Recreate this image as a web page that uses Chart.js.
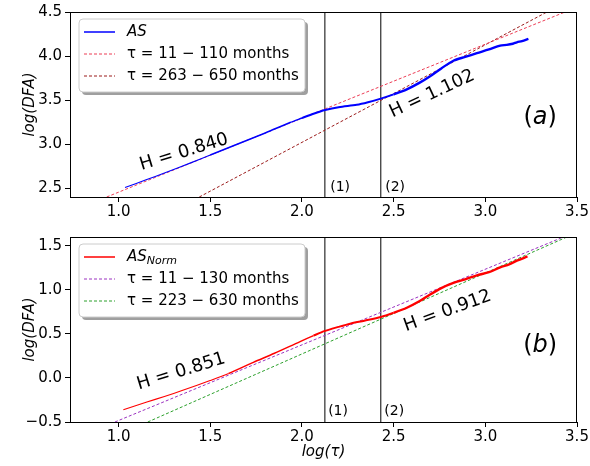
<!DOCTYPE html>
<html>
<head>
<meta charset="utf-8">
<script src="https://cdn.jsdelivr.net/npm/chart.js@4.4.0/dist/chart.umd.min.js"></script>
<style>
  body { margin: 0; background: #fff; }
  canvas { display: block; }
</style>
</head>
<body>
<canvas id="chartA" width="590" height="225"></canvas>
<canvas id="chartB" width="590" height="241"></canvas>
<script>
const FONT = '"DejaVu Sans", sans-serif';

// shared x axis: log(tau)
const xTicks = [1.0, 1.5, 2.0, 2.5, 3.0, 3.5];
const crossovers = [2.125, 2.43];   // (1) and (2)

// panel (a): AS
const asTau = [1.035, 1.15, 1.25, 1.4, 1.5, 1.65, 1.8, 1.935, 2.0, 2.063, 2.126, 2.2, 2.299, 2.36, 2.43, 2.5, 2.572,
  2.64, 2.699, 2.76, 2.826, 2.89, 2.954, 3.02, 3.081, 3.117, 3.15, 3.172, 3.2, 3.235];
const asDfa = [2.508, 2.595, 2.672, 2.793, 2.876, 3.002, 3.127, 3.245, 3.296, 3.345, 3.387, 3.42, 3.446, 3.475, 3.517,
  3.565, 3.622, 3.695, 3.771, 3.86, 3.947, 3.99, 4.033, 4.075, 4.119, 4.127, 4.14, 4.156, 4.17, 4.194];
const asShortTau = [0.935, 3.435];
const asShortDfa = [2.4, 4.5];
const asLongTau = [1.44, 3.336];
const asLongDfa = [2.4, 4.5];
const aTicks = [2.5, 3.0, 3.5, 4.0, 4.5];

// panel (b): AS_Norm
const normTau = [1.026, 1.15, 1.25, 1.35, 1.499, 1.6, 1.735, 1.85, 1.99, 2.063, 2.126, 2.2, 2.263, 2.34, 2.43, 2.5,
  2.572, 2.64, 2.699, 2.76, 2.826, 2.89, 2.954, 3.02, 3.081, 3.13, 3.172, 3.23];
const normDfa = [-0.36, -0.276, -0.21, -0.14, -0.03, 0.05, 0.177, 0.28, 0.413, 0.48, 0.534, 0.58, 0.616, 0.65, 0.692,
  0.74, 0.797, 0.87, 0.948, 1.02, 1.078, 1.12, 1.165, 1.2, 1.255, 1.29, 1.331, 1.379];
const normShortTau = [0.98, 3.426];
const normShortDfa = [-0.5, 1.6];
const normLongTau = [1.159, 3.445];
const normLongDfa = [-0.5, 1.6];
const bTicks = [-0.5, 0.0, 0.5, 1.0, 1.5];

const pts = (xs, ys) => xs.map((x, i) => ({ x: x, y: ys[i] }));

function runFont(r, size) {
  const s = r.sub ? Math.round(size * 0.7) : size;
  return (r.italic ? 'italic ' : '') + s + 'px ' + FONT;
}

function drawRuns(ctx, runs, x, y, size, align) {
  let w = 0;
  runs.forEach(r => { ctx.font = runFont(r, size); w += ctx.measureText(r.t).width; });
  let cx = align === 'center' ? x - w / 2 : x;
  ctx.textAlign = 'left';
  ctx.textBaseline = 'middle';
  runs.forEach(r => {
    ctx.font = runFont(r, size);
    ctx.fillText(r.t, cx, y + (r.sub ? size * 0.3 : 0));
    cx += ctx.measureText(r.t).width;
  });
}

function roundRect(ctx, x, y, w, h, r) {
  ctx.beginPath();
  ctx.moveTo(x + r, y);
  ctx.arcTo(x + w, y, x + w, y + h, r);
  ctx.arcTo(x + w, y + h, x, y + h, r);
  ctx.arcTo(x, y + h, x, y, r);
  ctx.arcTo(x, y, x + w, y, r);
  ctx.closePath();
}

const panelDecor = {
  id: 'panelDecor',
  afterDatasetsDraw(chart, args, opts) {
    const ctx = chart.ctx;
    const xs = chart.scales.x, ys = chart.scales.y;
    ctx.save();
    ctx.fillStyle = '#000';
    opts.notes.forEach(n => {
      ctx.save();
      ctx.translate(xs.getPixelForValue(n.x), ys.getPixelForValue(n.y));
      ctx.rotate((n.angle || 0) * Math.PI / 180);
      drawRuns(ctx, n.runs, 0, 0, n.size, 'center');
      ctx.restore();
    });
    ctx.restore();
  },
  afterDraw(chart, args, opts) {
    const ctx = chart.ctx;
    const ca = chart.chartArea;
    ctx.save();
    // frame
    ctx.strokeStyle = '#000';
    ctx.lineWidth = 1;
    ctx.strokeRect(Math.round(ca.left) + 0.5, Math.round(ca.top) + 0.5,
      Math.round(ca.right - ca.left) - 1, Math.round(ca.bottom - ca.top));
    // legend box
    const bx = ca.left + 9, by = ca.top + 7, bw = 226, bh = 73;
    ctx.fillStyle = 'rgba(80,80,80,0.55)';
    roundRect(ctx, bx + 3, by + 3, bw, bh, 4);
    ctx.fill();
    ctx.fillStyle = 'rgba(255,255,255,1)';
    roundRect(ctx, bx, by, bw, bh, 4);
    ctx.fill();
    ctx.strokeStyle = '#cccccc';
    ctx.stroke();
    opts.legend.forEach((item, i) => {
      const ly = by + 13 + i * 22;
      ctx.strokeStyle = item.color;
      ctx.lineWidth = item.width;
      ctx.setLineDash(item.dash || []);
      ctx.beginPath();
      ctx.moveTo(bx + 5, ly);
      ctx.lineTo(bx + 36, ly);
      ctx.stroke();
      ctx.setLineDash([]);
      ctx.fillStyle = '#000';
      drawRuns(ctx, item.runs, bx + 48, ly, 15, 'left');
    });
    ctx.restore();
  }
};

function widthByTau(ctx) {
  const x = ctx.p0.parsed.x;
  if (x < 1.5) return 1.1;
  if (x < 2.0) return 1.5;
  if (x < 2.5) return 2.0;
  return 2.4;
}

function buildPanel(id, p) {
  const dashed = (xs, ys, color) => ({
    data: pts(xs, ys), showLine: true, borderColor: color, borderWidth: 1,
    borderDash: [3, 2], pointRadius: 0
  });
  const vline = x => ({
    data: [{ x: x, y: p.yMin }, { x: x, y: p.yMax }], showLine: true,
    borderColor: '#000', borderWidth: 1, pointRadius: 0
  });
  return new Chart(document.getElementById(id), {
    type: 'scatter',
    data: {
      datasets: [
        {
          data: pts(p.curveX, p.curveY), showLine: true, borderColor: p.curveColor,
          borderWidth: 1.6, pointRadius: 0, tension: 0.3,
          segment: { borderWidth: widthByTau }
        },
        dashed(p.shortX, p.shortY, p.shortColor),
        dashed(p.longX, p.longY, p.longColor),
        vline(crossovers[0]),
        vline(crossovers[1])
      ]
    },
    options: {
      responsive: false,
      animation: false,
      layout: { padding: { left: 0, right: 13, top: p.padTop, bottom: 0 } },
      plugins: {
        legend: { display: false },
        tooltip: { enabled: false },
        panelDecor: { legend: p.legend, notes: p.notes }
      },
      scales: {
        x: {
          type: 'linear', min: 0.735, max: 3.5,
          afterFit: s => { s.height = p.xAxisHeight; },
          afterBuildTicks: s => { s.ticks = xTicks.map(v => ({ value: v })); },
          grid: { display: true, drawOnChartArea: false, drawTicks: true, tickLength: 5, color: '#000' },
          border: { display: true, color: '#000' },
          ticks: {
            color: '#000', padding: 1, maxRotation: 0,
            font: { family: FONT, size: 15 },
            callback: v => v.toFixed(1)
          },
          title: {
            display: p.xTitle, text: 'log(τ)', color: '#000',
            font: { family: FONT, size: 15, style: 'italic' },
            padding: { top: 0, bottom: 5 }
          }
        },
        y: {
          type: 'linear', min: p.yMin, max: p.yMax,
          afterFit: s => { s.width = 70; },
          afterBuildTicks: s => { s.ticks = p.yTicks.map(v => ({ value: v })); },
          grid: { display: true, drawOnChartArea: false, drawTicks: true, tickLength: 5, color: '#000' },
          border: { display: true, color: '#000' },
          ticks: {
            color: '#000', padding: 3,
            font: { family: FONT, size: 15 },
            callback: v => (v < 0 ? '\u2212' : '') + Math.abs(v).toFixed(1)
          },
          title: {
            display: true, text: 'log(DFA)', color: '#000',
            font: { family: FONT, size: 15, style: 'italic' },
            padding: { top: 21, bottom: 0 }
          }
        }
      }
    },
    plugins: [panelDecor]
  });
}

buildPanel('chartA', {
  curveX: asTau, curveY: asDfa, curveColor: '#0000ff',
  shortX: asShortTau, shortY: asShortDfa, shortColor: '#ec3d55',
  longX: asLongTau, longY: asLongDfa, longColor: '#9b1b1b',
  yMin: 2.4, yMax: 4.5, yTicks: aTicks,
  padTop: 10, xAxisHeight: 28, xTitle: false,
  legend: [
    { runs: [{ t: 'AS', italic: true }], color: '#0000ff', width: 1.5 },
    { runs: [{ t: 'τ = 11 − 110 months' }], color: '#ec3d55', width: 1, dash: [3, 2] },
    { runs: [{ t: 'τ = 263 − 650 months' }], color: '#9b1b1b', width: 1, dash: [3, 2] }
  ],
  notes: [
    { runs: [{ t: 'H = 0.840' }], x: 1.357, y: 2.908, angle: -17, size: 18 },
    { runs: [{ t: 'H = 1.102' }], x: 2.71, y: 3.569, angle: -25, size: 18 },
    { runs: [{ t: '(' }, { t: 'a', italic: true }, { t: ')' }], x: 3.299, y: 3.295, size: 24 },
    { runs: [{ t: '(1)' }], x: 2.208, y: 2.51, size: 14 },
    { runs: [{ t: '(2)' }], x: 2.508, y: 2.51, size: 14 }
  ]
});

buildPanel('chartB', {
  curveX: normTau, curveY: normDfa, curveColor: '#ff0000',
  shortX: normShortTau, shortY: normShortDfa, shortColor: '#9b32c0',
  longX: normLongTau, longY: normLongDfa, longColor: '#2ca02c',
  yMin: -0.5, yMax: 1.6, yTicks: bTicks,
  padTop: 10, xAxisHeight: 44, xTitle: true,
  legend: [
    { runs: [{ t: 'AS', italic: true }, { t: 'Norm', italic: true, sub: true }], color: '#ff0000', width: 1.5 },
    { runs: [{ t: 'τ = 11 − 130 months' }], color: '#9b32c0', width: 1, dash: [3, 2] },
    { runs: [{ t: 'τ = 223 − 630 months' }], color: '#2ca02c', width: 1, dash: [3, 2] }
  ],
  notes: [
    { runs: [{ t: 'H = 0.851' }], x: 1.341, y: 0.072, angle: -17, size: 18 },
    { runs: [{ t: 'H = 0.912' }], x: 2.794, y: 0.759, angle: -20, size: 18 },
    { runs: [{ t: '(' }, { t: 'b', italic: true }, { t: ')' }], x: 3.299, y: 0.365, size: 24 },
    { runs: [{ t: '(1)' }], x: 2.197, y: -0.382, size: 14 },
    { runs: [{ t: '(2)' }], x: 2.503, y: -0.382, size: 14 }
  ]
});
</script>
</body>
</html>
